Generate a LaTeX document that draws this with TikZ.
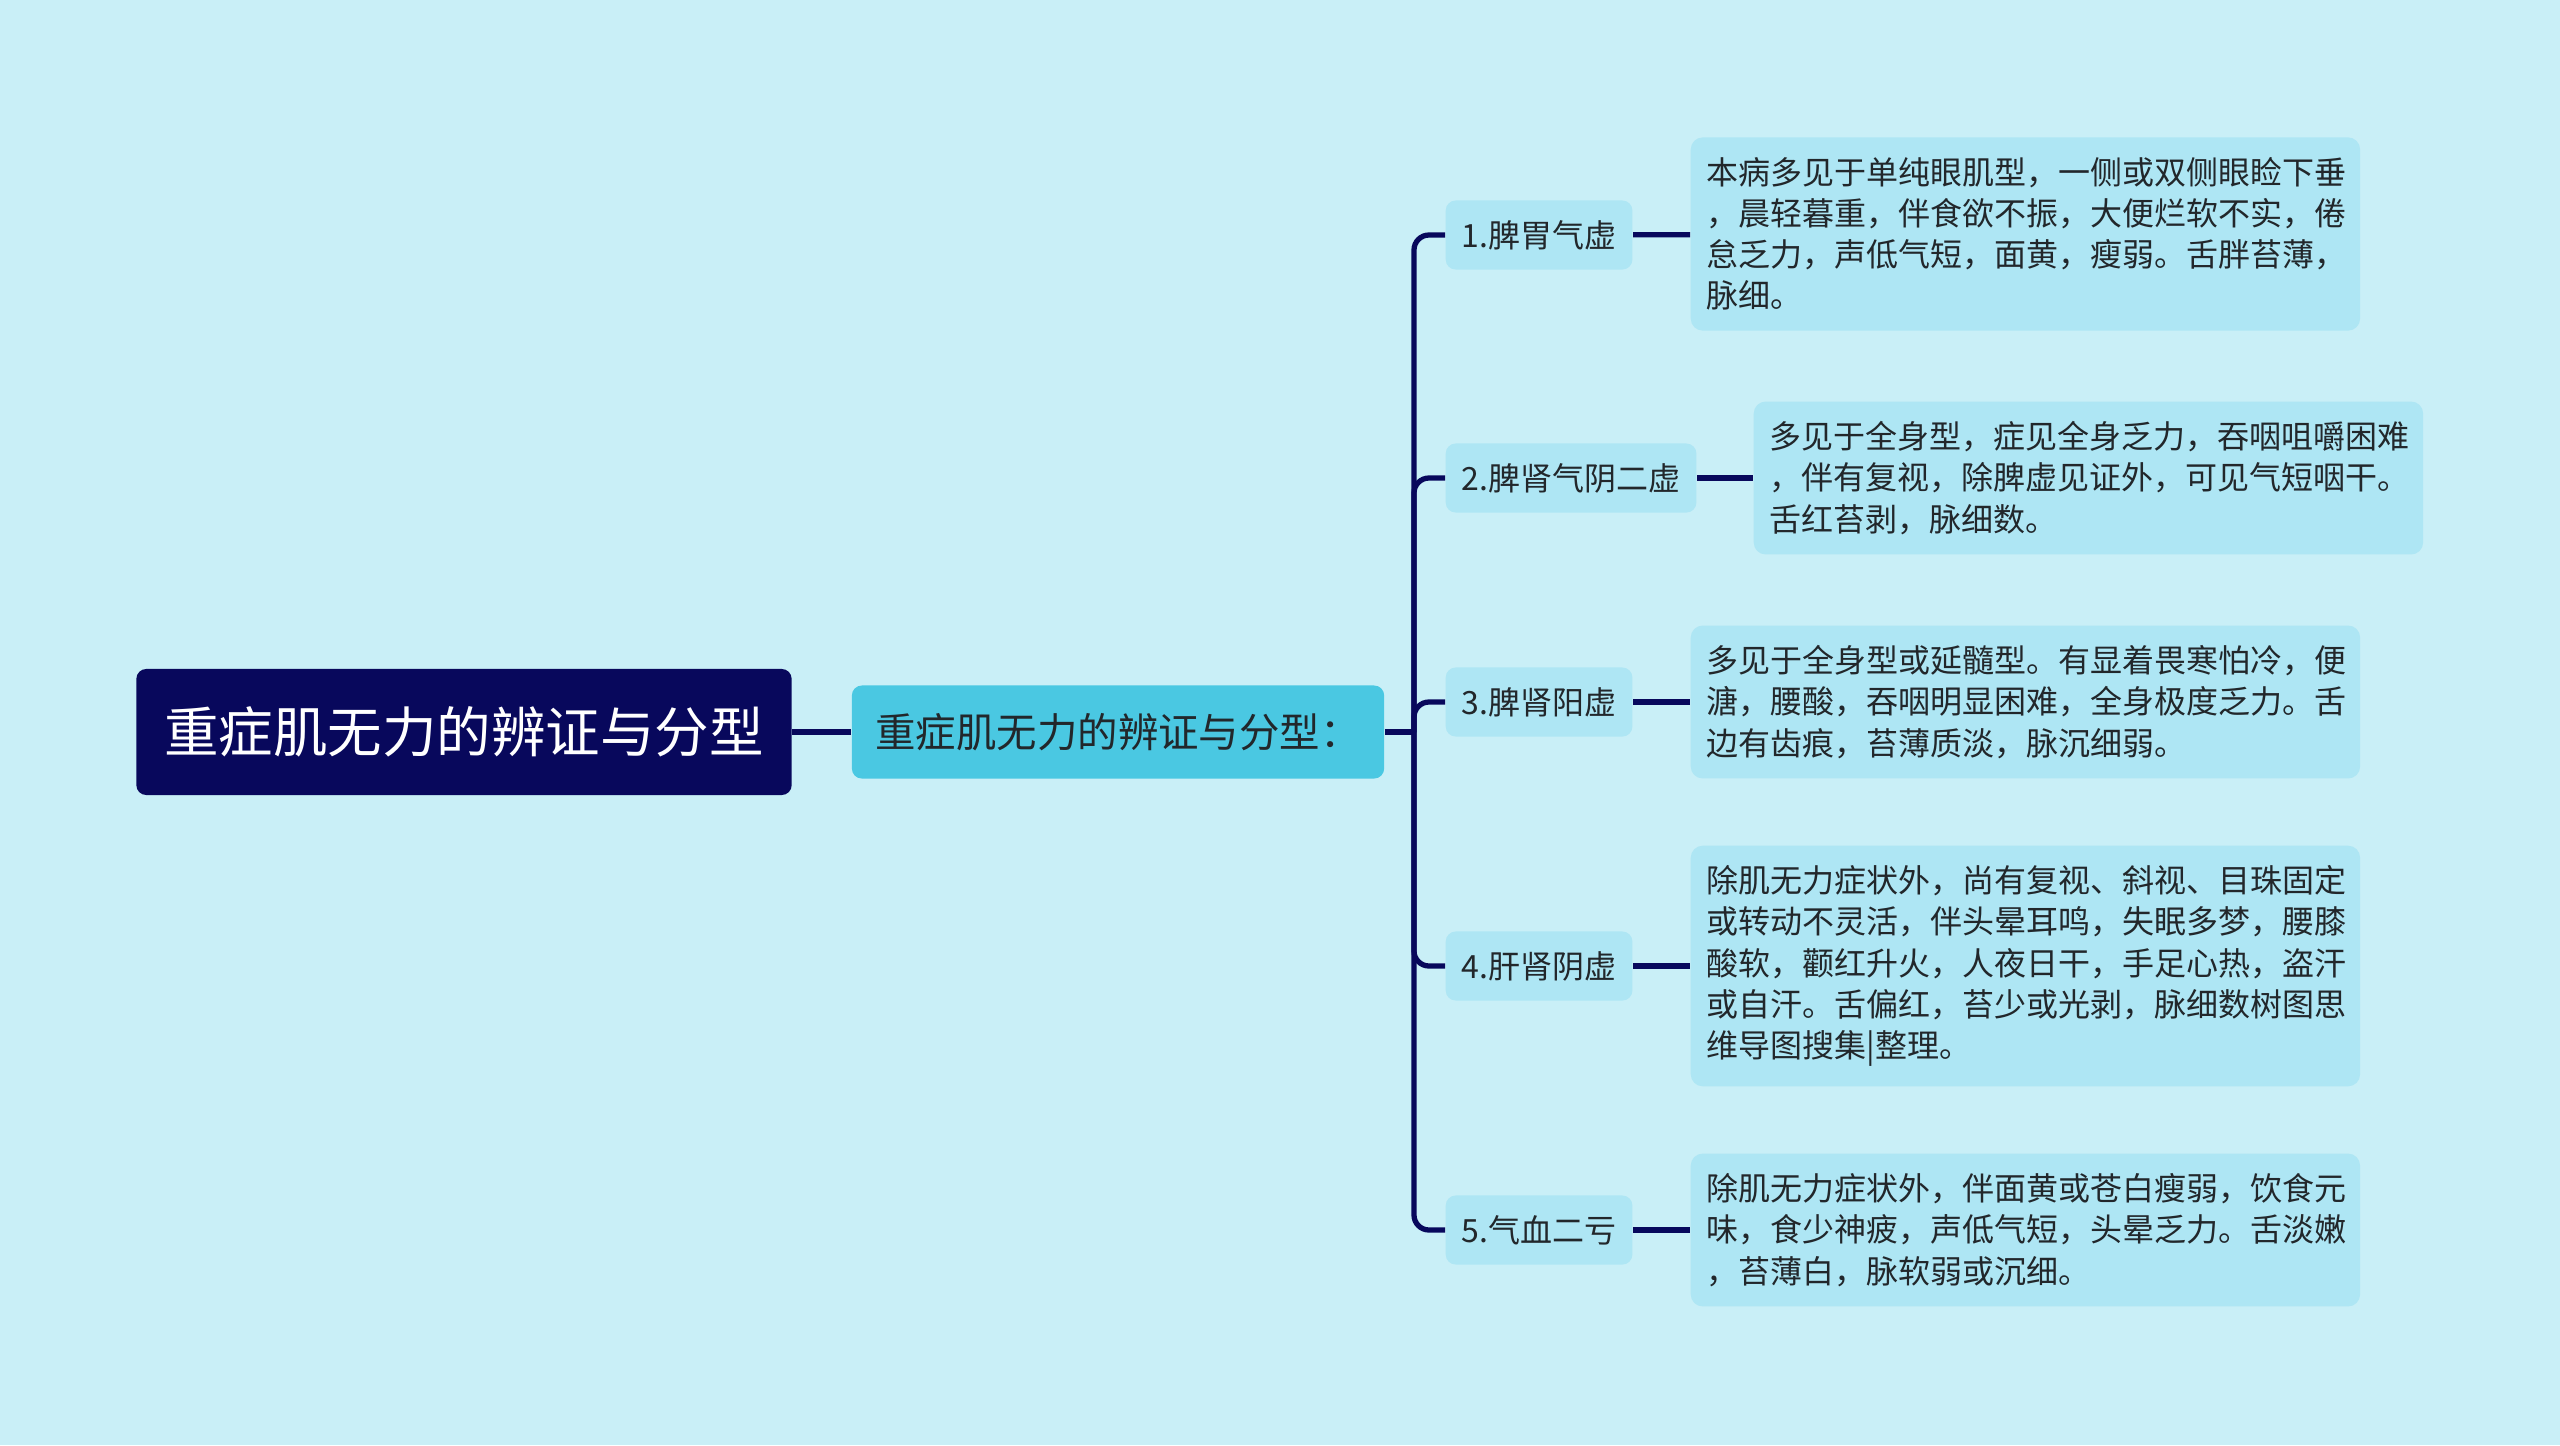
\documentclass[tikz,border=0pt]{standalone}
\usepackage{fontspec}
\newfontfamily\cjk{Noto Sans CJK SC}
\definecolor{paper}{HTML}{C9EFF7}
\definecolor{navy}{HTML}{08085C}
\definecolor{topicfill}{HTML}{4AC8E2}
\definecolor{leaffill}{HTML}{AEE6F4}
\definecolor{ink}{HTML}{22272B}

\begin{document}
\begin{tikzpicture}[x=0.01cm,y=-0.01cm,
                    root box/.style={fill=navy,text=white,rounded corners=0.1cm,
                                     minimum width=6.55cm,minimum height=1.26cm,
                                     font=\cjk\fontsize{15.5pt}{18pt}\selectfont},
                    topic box/.style={fill=topicfill,text=ink,rounded corners=0.1cm,
                                      minimum width=5.32cm,minimum height=0.93cm,
                                      font=\cjk\fontsize{11.5pt}{14pt}\selectfont},
                    branch box/.style={anchor=west,fill=leaffill,text=ink,rounded corners=0.1cm,
                                       inner xsep=0.16cm,minimum height=0.69cm,
                                       font=\cjk\fontsize{9.1pt}{11pt}\selectfont},
                    leaf box/.style={anchor=west,fill=leaffill,text=ink,rounded corners=0.12cm,
                                     inner xsep=0.16cm,inner ysep=0.2cm,text width=6.37cm,align=left,
                                     font=\cjk\fontsize{9.1pt}{11.7pt}\selectfont},
                    link/.style={navy,line width=1.5pt}]
    \path[use as bounding box,fill=paper] (0,0) rectangle (2560,1445);

    \coordinate (trunk) at (1414,732);

    \node[root box] (root) at (464,732) {重症肌无力的辨证与分型};
    \node[topic box] (topic) at (1118,732) {重症肌无力的辨证与分型：};

    \node[branch box] (b1) at (1445,235) {1.脾胃气虚};
    \node[branch box] (b2) at (1445,478) {2.脾肾气阴二虚};
    \node[branch box] (b3) at (1445,702) {3.脾肾阳虚};
    \node[branch box] (b4) at (1445,966) {4.肝肾阴虚};
    \node[branch box] (b5) at (1445,1230) {5.气血二亏};

    \node[leaf box] (l1) at (1690,234) {本病多见于单纯眼肌型，一侧或双侧眼睑下垂\\，晨轻暮重，伴食欲不振，大便烂软不实，倦\\怠乏力，声低气短，面黄，瘦弱。舌胖苔薄，\\脉细。};
    \node[leaf box] (l2) at (1753,478) {多见于全身型，症见全身乏力，吞咽咀嚼困难\\，伴有复视，除脾虚见证外，可见气短咽干。\\舌红苔剥，脉细数。};
    \node[leaf box] (l3) at (1690,702) {多见于全身型或延髓型。有显着畏寒怕冷，便\\溏，腰酸，吞咽明显困难，全身极度乏力。舌\\边有齿痕，苔薄质淡，脉沉细弱。};
    \node[leaf box] (l4) at (1690,966) {除肌无力症状外，尚有复视、斜视、目珠固定\\或转动不灵活，伴头晕耳鸣，失眠多梦，腰膝\\酸软，颧红升火，人夜日干，手足心热，盗汗\\或自汗。舌偏红，苔少或光剥，脉细数树图思\\维导图搜集|整理。};
    \node[leaf box] (l5) at (1690,1230) {除肌无力症状外，伴面黄或苍白瘦弱，饮食元\\味，食少神疲，声低气短，头晕乏力。舌淡嫩\\，苔薄白，脉软弱或沉细。};

    \draw[link] (root) -- (topic);
    \draw[link] (topic) -- (trunk);
    \foreach \b in {b1,b2,b3,b4,b5}
        \draw[link,rounded corners=0.15cm] (trunk) |- (\b.west);
    \foreach \b/\l in {b1/l1,b2/l2,b3/l3,b4/l4,b5/l5}
        \draw[link] (\b) -- (\l);
\end{tikzpicture}
\end{document}
